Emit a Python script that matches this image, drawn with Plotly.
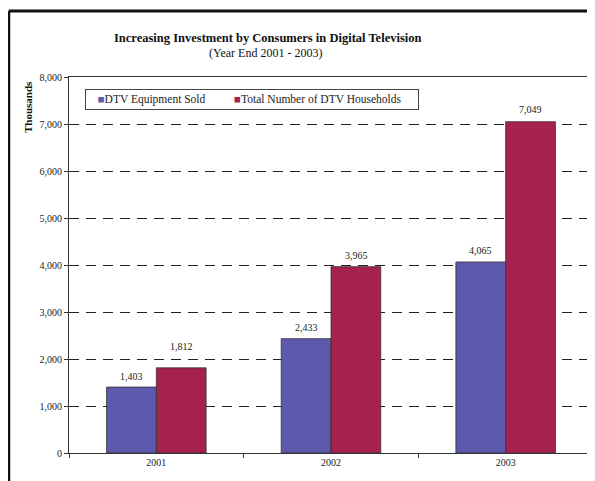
import plotly.graph_objects as go

years = ["2001", "2002", "2003"]
equipment_sold = [1403, 2433, 4065]
dtv_households = [1812, 3965, 7049]
series_names = ["DTV Equipment Sold", "Total Number of DTV Households"]
y_ticks = [0, 1000, 2000, 3000, 4000, 5000, 6000, 7000, 8000]

FONT = "Liberation Serif"
blue = "#5d5aae"
red = "#a6214b"
colors = [blue, red]
series = [equipment_sold, dtv_households]
# label vertical offsets (px) per series, per category (style only)
label_lift = [[11, 11, 11], [21, 11, 12]]

fig = go.Figure()
for name, vals, col in zip(series_names, series, colors):
    fig.add_trace(go.Bar(
        x=years, y=vals, name=name,
        marker=dict(color=col, line=dict(color="#333333", width=0.8)),
        showlegend=False,
    ))

annotations = []
# value labels above bars
for vals, shift, lifts in zip(series, [-25, 25], label_lift):
    for i, (v, lift) in enumerate(zip(vals, lifts)):
        annotations.append(dict(
            x=i, y=v, xref="x", yref="y", text=f"{v:,}", showarrow=False,
            xshift=shift, yshift=lift, yanchor="middle", xanchor="center",
            font=dict(family=FONT, size=10, color="#222")))

# legend box built from the series names and colours
sp = "&nbsp;"
legend_text = sp * 3 + (sp * 10).join(
    f'<span style="color:{c}">■</span>{n}' for n, c in zip(series_names, colors)
) + sp * 5
annotations.append(dict(
    text=legend_text, xref="paper", yref="paper",
    x=0.03, y=0.941, xanchor="left", yanchor="middle", showarrow=False,
    bgcolor="white", bordercolor="#444", borderwidth=1, borderpad=3,
    font=dict(family=FONT, size=11.5, color="#222"), align="left"))

annotations += [
    dict(text="<b>Increasing Investment by Consumers in Digital Television</b>",
         xref="paper", yref="paper", x=0.378, y=1.104, showarrow=False,
         xanchor="center", yanchor="middle",
         font=dict(family=FONT, size=12.5, color="#111")),
    dict(text="(Year End 2001 - 2003)",
         xref="paper", yref="paper", x=0.375, y=1.064, showarrow=False,
         xanchor="center", yanchor="middle",
         font=dict(family=FONT, size=12, color="#111")),
    dict(text="<b>Thousands</b>", textangle=-90,
         xref="paper", yref="paper", x=-0.078, y=0.995, showarrow=False,
         xanchor="center", yanchor="top",
         font=dict(family=FONT, size=11, color="#111")),
]

fig.update_layout(
    width=587, height=473,
    margin=dict(l=61, r=2, t=69, b=28),
    paper_bgcolor="white", plot_bgcolor="white",
    barmode="group", bargap=0.43, bargroupgap=0,
    font=dict(family=FONT, size=10, color="#222"),
    showlegend=False,
    xaxis=dict(type="category", showline=True, linecolor="#333", linewidth=1, mirror=True,
               ticks="outside", tickson="boundaries", ticklen=4, tickcolor="#333",
               tickfont=dict(family=FONT, size=10)),
    yaxis=dict(range=[0, 8000], tickvals=y_ticks, tickformat=",",
               showline=True, linecolor="#333", linewidth=1, mirror=True,
               ticks="outside", ticklen=4, tickcolor="#333",
               showgrid=True, gridcolor="#222", griddash="10px,7px", gridwidth=1,
               tickfont=dict(family=FONT, size=10), zeroline=False),
    annotations=annotations,
    shapes=[
        dict(type="line", xref="paper", yref="paper", x0=-0.115, x1=1.01,
             y0=1.1755, y1=1.1755, line=dict(color="#111", width=3)),
        dict(type="line", xref="paper", yref="paper", x0=-0.115, x1=-0.115,
             y0=1.1755, y1=-0.08, line=dict(color="#111", width=3)),
    ],
)

fig.write_html("out.html")
